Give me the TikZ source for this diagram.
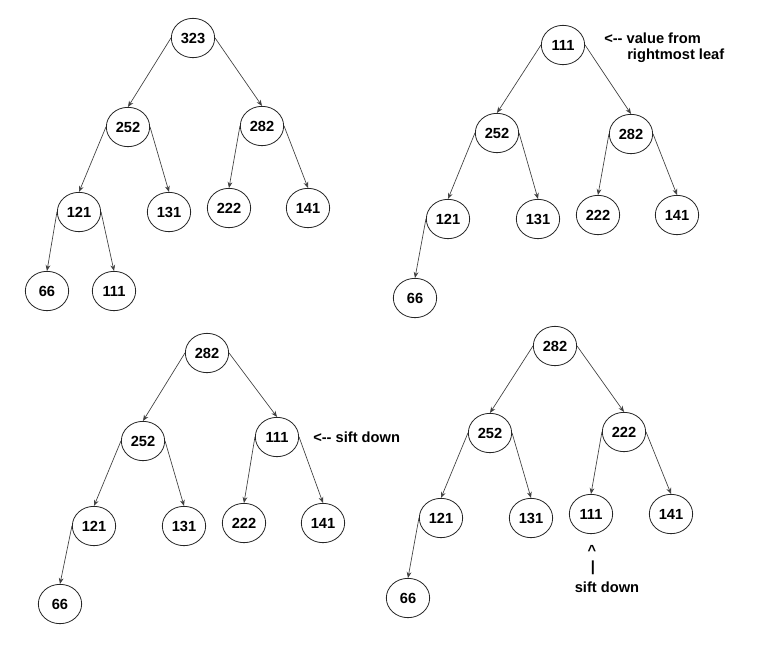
\documentclass[tikz,border=0pt]{standalone}
\usepackage{fontspec}
\setmainfont{Liberation Sans}
\usetikzlibrary{arrows.meta,shapes.geometric}
\begin{document}
\begin{tikzpicture}[x=0.75pt,y=-0.75pt,
  hn/.style={draw=black!85,line width=0.6pt,ellipse,minimum width=32.5pt,minimum height=29.5pt,inner sep=0pt,font=\fontsize{11}{13}\selectfont\bfseries},
  edge/.style={draw=black!75,line width=0.5pt,-{Stealth[length=4.5pt,width=3.6pt]}},
  lab/.style={font=\fontsize{11}{13}\selectfont\bfseries,inner sep=0pt}]
\useasboundingbox[fill=white] (0,0) rectangle (768,650);

% Tree 1
\node[hn] (a1) at (193,38) {323};
\node[hn] (a2) at (128,127) {252};
\node[hn] (a3) at (262,126) {282};
\node[hn] (a4) at (79,212) {121};
\node[hn] (a5) at (169,212) {131};
\node[hn] (a6) at (229,208) {222};
\node[hn] (a7) at (308,208) {141};
\node[hn] (a8) at (47,291) {66};
\node[hn] (a9) at (114,291) {111};
\draw[edge] (a1.west) -- (a2.north);
\draw[edge] (a1.east) -- (a3.north);
\draw[edge] (a2.west) -- (a4.north);
\draw[edge] (a2.east) -- (a5.north);
\draw[edge] (a3.west) -- (a6.north);
\draw[edge] (a3.east) -- (a7.north);
\draw[edge] (a4.west) -- (a8.north);
\draw[edge] (a4.east) -- (a9.north);

% Tree 2
\node[hn] (b1) at (563,45) {111};
\node[hn] (b2) at (497,133) {252};
\node[hn] (b3) at (631,134) {282};
\node[hn] (b4) at (448,219) {121};
\node[hn] (b5) at (538,219) {131};
\node[hn] (b6) at (598,215) {222};
\node[hn] (b7) at (677,215) {141};
\node[hn] (b8) at (415,298) {66};
\draw[edge] (b1.west) -- (b2.north);
\draw[edge] (b1.east) -- (b3.north);
\draw[edge] (b2.west) -- (b4.north);
\draw[edge] (b2.east) -- (b5.north);
\draw[edge] (b3.west) -- (b6.north);
\draw[edge] (b3.east) -- (b7.north);
\draw[edge] (b4.west) -- (b8.north);
\node[lab,anchor=west] (l1) at (604,38) {<-\kern0pt- value from};
\node[lab,anchor=west] (l2) at (627,56) {rightmost leaf};

% Tree 3
\node[hn] (c1) at (207,353) {282};
\node[hn] (c2) at (143,441) {252};
\node[hn] (c3) at (277,437) {111};
\node[hn] (c4) at (94,526) {121};
\node[hn] (c5) at (184,526) {131};
\node[hn] (c6) at (244,523) {222};
\node[hn] (c7) at (323,523) {141};
\node[hn] (c8) at (60,604) {66};
\draw[edge] (c1.west) -- (c2.north);
\draw[edge] (c1.east) -- (c3.north);
\draw[edge] (c2.west) -- (c4.north);
\draw[edge] (c2.east) -- (c5.north);
\draw[edge] (c3.west) -- (c6.north);
\draw[edge] (c3.east) -- (c7.north);
\draw[edge] (c4.west) -- (c8.north);
\node[lab,anchor=west] (l3) at (313,437) {<-\kern0pt- sift down};

% Tree 4
\node[hn] (d1) at (555,346) {282};
\node[hn] (d2) at (490,433) {252};
\node[hn] (d3) at (624,432) {222};
\node[hn] (d4) at (441,518) {121};
\node[hn] (d5) at (531,518) {131};
\node[hn] (d6) at (591,514) {111};
\node[hn] (d7) at (671,514) {141};
\node[hn] (d8) at (408,598) {66};
\draw[edge] (d1.west) -- (d2.north);
\draw[edge] (d1.east) -- (d3.north);
\draw[edge] (d2.west) -- (d4.north);
\draw[edge] (d2.east) -- (d5.north);
\draw[edge] (d3.west) -- (d6.north);
\draw[edge] (d3.east) -- (d7.north);
\draw[edge] (d4.west) -- (d8.north);
\node[lab] (l4) at (592,550) {\textasciicircum};
\node[lab] (l5) at (593,568) {\textbar};
\node[lab] (l6) at (607,587) {sift down};
\end{tikzpicture}
\end{document}
